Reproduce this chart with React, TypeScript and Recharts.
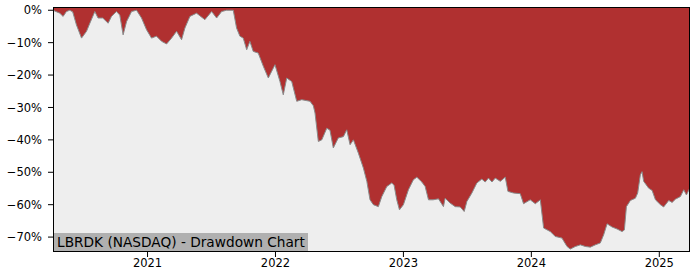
import { Area, AreaChart, CartesianGrid, XAxis, YAxis } from "recharts";

// time as decimal year, drawdown in percent
const years = [
  2020.261, 2020.314, 2020.34, 2020.366, 2020.392, 2020.415, 2020.444, 2020.484, 2020.523, 2020.549,
  2020.588, 2020.613, 2020.65, 2020.692, 2020.718, 2020.757, 2020.783, 2020.809, 2020.836, 2020.875,
  2020.914, 2020.953, 2020.992, 2021.031, 2021.07, 2021.11, 2021.149, 2021.188, 2021.227, 2021.266,
  2021.292, 2021.331, 2021.383, 2021.448, 2021.501, 2021.54, 2021.579, 2021.618, 2021.67, 2021.696,
  2021.722, 2021.748, 2021.775, 2021.8, 2021.826, 2021.865, 2021.905, 2021.944, 2021.996, 2022.035,
  2022.061, 2022.088, 2022.127, 2022.166, 2022.205, 2022.27, 2022.296, 2022.309, 2022.335, 2022.362,
  2022.401, 2022.426, 2022.452, 2022.491, 2022.531, 2022.557, 2022.583, 2022.609, 2022.648, 2022.687,
  2022.714, 2022.739, 2022.765, 2022.804, 2022.831, 2022.87, 2022.909, 2022.927, 2022.948, 2022.969,
  2023.0, 2023.039, 2023.078, 2023.105, 2023.144, 2023.17, 2023.196, 2023.232, 2023.274, 2023.313,
  2023.326, 2023.365, 2023.405, 2023.444, 2023.475, 2023.496, 2023.535, 2023.574, 2023.613, 2023.639,
  2023.665, 2023.692, 2023.718, 2023.757, 2023.796, 2023.817, 2023.861, 2023.913, 2023.939, 2023.991,
  2024.031, 2024.07, 2024.096, 2024.148, 2024.187, 2024.239, 2024.279, 2024.304, 2024.344, 2024.383,
  2024.422, 2024.461, 2024.5, 2024.539, 2024.565, 2024.592, 2024.631, 2024.67, 2024.709, 2024.727,
  2024.743, 2024.774, 2024.813, 2024.831, 2024.852, 2024.865, 2024.878, 2024.917, 2024.944, 2024.97,
  2025.009, 2025.034, 2025.074, 2025.1, 2025.126, 2025.165, 2025.191, 2025.212, 2025.238,
];

const drawdown = [
  0, -0.9, -1.9, -0.4, 0, -0.5, -4.5, -8.6, -6.5, -4,
  -0.4, -2.4, -2.4, -4, -1.9, -0.4, -1.5, -7.6, -3.5, -0.4,
  0, -2.4, -6, -8.6, -8, -9.6, -10.4, -8.6, -6.5, -9.1,
  -5.5, -1.9, -0.9, -2.9, -0.4, -2.4, -0.4, 0, 0, -5.5,
  -8, -8.6, -12.2, -9.6, -12.7, -13.2, -17.3, -20.9, -16.8, -22,
  -26.1, -20.9, -22, -28.1, -27.6, -28.1, -29.5, -31.7, -40.5, -40,
  -36.4, -37, -42.5, -39.4, -39, -36.9, -41.5, -40, -44.1, -48.7,
  -52.8, -58.5, -60, -60.6, -57.5, -54.4, -53.3, -54, -58.5, -61.6,
  -60, -55.4, -52.3, -51.5, -53, -54.4, -58.5, -58.5, -58.2, -60.6,
  -58, -59.5, -60.6, -60.7, -62.1, -59, -56.4, -53.3, -52.1, -53,
  -51.8, -53, -51.8, -52.8, -51.5, -55.9, -56.4, -56.6, -59.7, -58.5,
  -59.7, -58.5, -67.2, -68.3, -69.8, -70.3, -72.9, -73.7, -72.9, -72.4,
  -72.9, -73.1, -72.4, -71.8, -69.3, -65.9, -66.9, -67.5, -68.3, -67.8,
  -60.6, -58.7, -58, -56.4, -50.8, -49.8, -52.8, -54.9, -55.6, -58.5,
  -60, -60.7, -58.7, -59.3, -58.3, -57.5, -55.4, -57, -54.9,
];

const yearTicks = [2021, 2022, 2023, 2024, 2025];
const pctTicks = [0, -10, -20, -30, -40, -50, -60, -70];
const title = "LBRDK (NASDAQ) - Drawdown Chart";

const data = years.map((t, i) => ({ t, dd: drawdown[i] }));

const font = "'DejaVu Sans', sans-serif";
const tickStyle = { fill: "#000", fontSize: 11.5, fontFamily: font };

export default function App() {
  return (
    <div style={{ position: "absolute", left: 0, top: 0, width: 700, height: 280, background: "#fff" }}>
      <AreaChart width={700} height={280} data={data} margin={{ top: 7, right: 10, left: 0, bottom: 0 }}>
        <CartesianGrid fill="#eeeeee" horizontal={false} vertical={false} />
        <XAxis
          dataKey="t"
          type="number"
          domain={[2020.261, 2025.24]}
          ticks={yearTicks}
          tickFormatter={(v) => String(v)}
          height={28}
          axisLine={false}
          tickLine={{ stroke: "#000" }}
          tickSize={5}
          tick={tickStyle}
          allowDataOverflow
        />
        <YAxis
          type="number"
          domain={[-74.6, 1]}
          ticks={pctTicks}
          tickFormatter={(v) => `${v < 0 ? "\u2212" + Math.abs(v) : v}%`}
          width={53}
          axisLine={false}
          tickLine={{ stroke: "#000" }}
          tickSize={5}
          tickMargin={6}
          tick={tickStyle}
          allowDataOverflow
        />
        <Area
          type="linear"
          dataKey="dd"
          baseValue="dataMax"
          fill="#b03030"
          fillOpacity={1}
          stroke="#8a8a8a"
          strokeWidth={1}
          dot={false}
          activeDot={false}
          isAnimationActive={false}
        />
      </AreaChart>
      <div
        style={{
          position: "absolute",
          left: 53,
          top: 7,
          width: 637,
          height: 245,
          border: "1px solid #000",
          boxSizing: "border-box",
          pointerEvents: "none",
        }}
      />
      <div
        style={{
          position: "absolute",
          left: 54,
          top: 233,
          height: 18,
          lineHeight: "18px",
          padding: "0 3px",
          background: "#b0b0b0",
          fontFamily: font,
          fontSize: 13.7,
          color: "#000",
          whiteSpace: "nowrap",
        }}
      >
        {title}
      </div>
    </div>
  );
}
